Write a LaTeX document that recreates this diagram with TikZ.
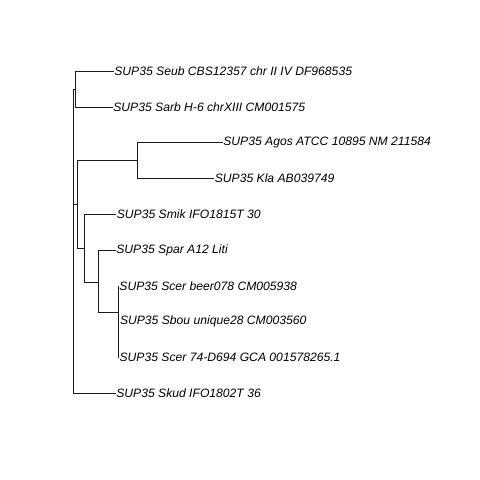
\documentclass[tikz,border=0pt]{standalone}
\usepackage{fontspec}
\setmainfont{Liberation Sans}
\usepackage{tikz}
\usetikzlibrary{positioning}
\tikzset{
  branch/.style={draw=black!90, line width=0.8pt},
  tiplabel/.style={anchor=west, inner sep=0.6pt, font=\fontsize{12.15}{14}\selectfont\itshape}
}
\begin{document}
\begin{tikzpicture}[x=1pt, y=-1pt]

  % canvas
  \useasboundingbox (0,0) rectangle (480,480);

  % Tips
  \node[tiplabel] (seub) at (113.5,71.3) {SUP35 Seub CBS12357 chr II IV DF968535};
  \node[tiplabel] (sarb) at (112.5,107.0) {SUP35 Sarb H-6 chrXIII CM001575};
  \node[tiplabel] (agos) at (222.5,142.8) {SUP35 Agos ATCC 10895 NM 211584};
  \node[tiplabel] (kla) at (214.0,178.6) {SUP35 Kla AB039749};
  \node[tiplabel] (smik) at (116.0,214.4) {SUP35 Smik IFO1815T 30};
  \node[tiplabel] (spar) at (115.5,250.2) {SUP35 Spar A12 Liti};
  \node[tiplabel] (scer_beer) at (118.6,286.0) {SUP35 Scer beer078 CM005938};
  \node[tiplabel] (sbou) at (119.2,321.8) {SUP35 Sbou unique28 CM003560};
  \node[tiplabel] (scer_74) at (118.8,357.6) {SUP35 Scer 74-D694 GCA 001578265.1};
  \node[tiplabel] (skud) at (115.5,393.4) {SUP35 Skud IFO1802T 36};

  % Internal nodes
  \coordinate (root) at (73.3,240);
  \coordinate (n_seub_sarb) at (75.7,89.1);
  \coordinate (n_mid) at (77.7,204.6);
  \coordinate (n_agos_kla) at (137.3,160.7);
  \coordinate (n_smik) at (84.0,248.5);
  \coordinate (n_spar) at (98.3,282.5);
  \coordinate (n_scer) at (118.3,312.8);
  \coordinate (n_sbou) at (118.3,339.7);

  % Branches
  \draw[branch] (root) |- (n_seub_sarb);
  \draw[branch] (root) |- (n_mid);
  \draw[branch] (root) |- (skud.west);

  \draw[branch] (n_seub_sarb) |- (seub.west);
  \draw[branch] (n_seub_sarb) |- (sarb.west);

  \draw[branch] (n_mid) |- (n_agos_kla);
  \draw[branch] (n_mid) |- (n_smik);

  \draw[branch] (n_agos_kla) |- (agos.west);
  \draw[branch] (n_agos_kla) |- (kla.west);

  \draw[branch] (n_smik) |- (smik.west);
  \draw[branch] (n_smik) |- (n_spar);

  \draw[branch] (n_spar) |- (spar.west);
  \draw[branch] (n_spar) |- (n_scer);

  \draw[branch] (n_scer) |- (scer_beer.west);
  \draw[branch] (n_scer) |- (n_sbou);
  \draw[branch] (n_sbou) |- (sbou.west);
  \draw[branch] (n_sbou) |- (scer_74.west);

\end{tikzpicture}
\end{document}
